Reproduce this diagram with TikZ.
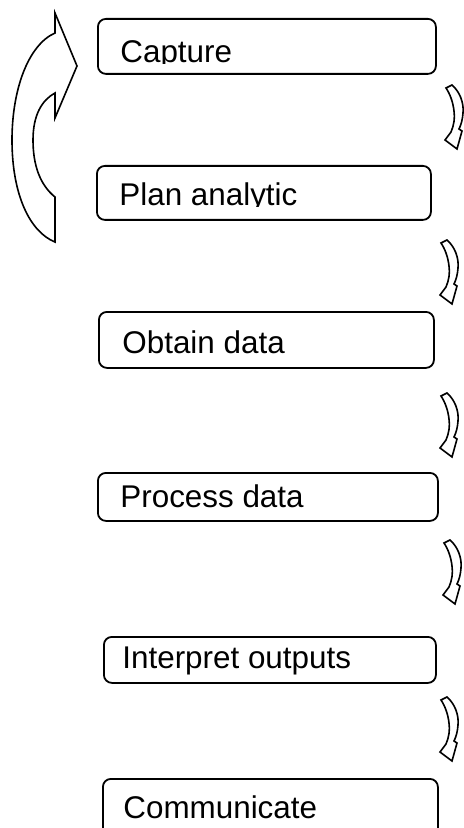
\documentclass[tikz,border=0pt]{standalone}
\usepackage{fontspec}
\setmainfont{Liberation Sans}
\tikzset{
	stage/.style={draw=black, line width=0.9pt, rounded corners=4pt, inner sep=0pt, anchor=north west},
	stagetext/.style={anchor=base west, inner sep=0pt, font=\fontsize{15.7}{18}\selectfont},
	bendarrow/.style={draw=black, line width=0.8pt, fill=white, line join=miter},
}
\begin{document}
\begin{tikzpicture}[x=0.5pt, y=-0.5pt]
	\useasboundingbox (0, 0) rectangle (464, 828);
	\clip (0, 0) rectangle (464, 828);
	% the six stages
	\node[stage, minimum width=169pt, minimum height=27.5pt] (capture) at (97, 18) {};
	\node[stage, minimum width=167pt, minimum height=27pt] (plan) at (96, 165) {};
	\node[stage, minimum width=167.5pt, minimum height=28pt] (obtain) at (98, 311) {};
	\node[stage, minimum width=170pt, minimum height=24pt] (process) at (97, 472) {};
	\node[stage, minimum width=166pt, minimum height=23pt] (interpret) at (103, 636) {};
	\node[stage, minimum width=167.5pt, minimum height=40pt] (communicate) at (102, 778) {};
	% the first two labels sit low and lose their descenders
	\begin{scope}
		\clip (97, 18) rectangle (435, 63.5);
		\node[stagetext] (capturetext) at (120, 62.5) {Capture};
	\end{scope}
	\begin{scope}
		\clip (96, 165) rectangle (430, 207);
		\node[stagetext] (plantext) at (119, 205.5) {Plan analytic};
	\end{scope}
	\node[stagetext] (obtaintext) at (122, 353) {Obtain data};
	\node[stagetext] (processtext) at (120, 507) {Process data};
	\node[stagetext] (interprettext) at (122, 668) {Interpret outputs};
	\node[stagetext] (communicatetext) at (123, 818) {Communicate};
	% big loop arrow back up to the first stage
	\draw[bendarrow] (55, 242) -- (55, 197)
		.. controls (40, 185) and (33, 165) .. (33, 140)
		.. controls (33, 115) and (42, 100) .. (55, 93)
		-- (55, 118) -- (77, 66) -- (55, 13) -- (55, 33)
		.. controls (28, 45) and (12, 90) .. (12, 140)
		.. controls (12, 195) and (30, 232) .. (55, 242) -- cycle;
	% small turn arrows between the stages
	\foreach \ax/\ay in {445/85, 440/240, 440/393, 443/540, 440/697} {
		\draw[bendarrow, shift={(\ax, \ay)}]
			(1, 3) -- (7, 0)
			.. controls (15, 7) and (19, 18) .. (18, 28)
			.. controls (17.5, 35) and (16, 40) .. (14, 44)
			-- (17, 46) -- (12, 64) -- (0, 55) -- (6, 47)
			.. controls (9, 40) and (10, 33) .. (9, 26)
			.. controls (8, 17) and (5, 9) .. (1, 3) -- cycle;
	}
\end{tikzpicture}
\end{document}
